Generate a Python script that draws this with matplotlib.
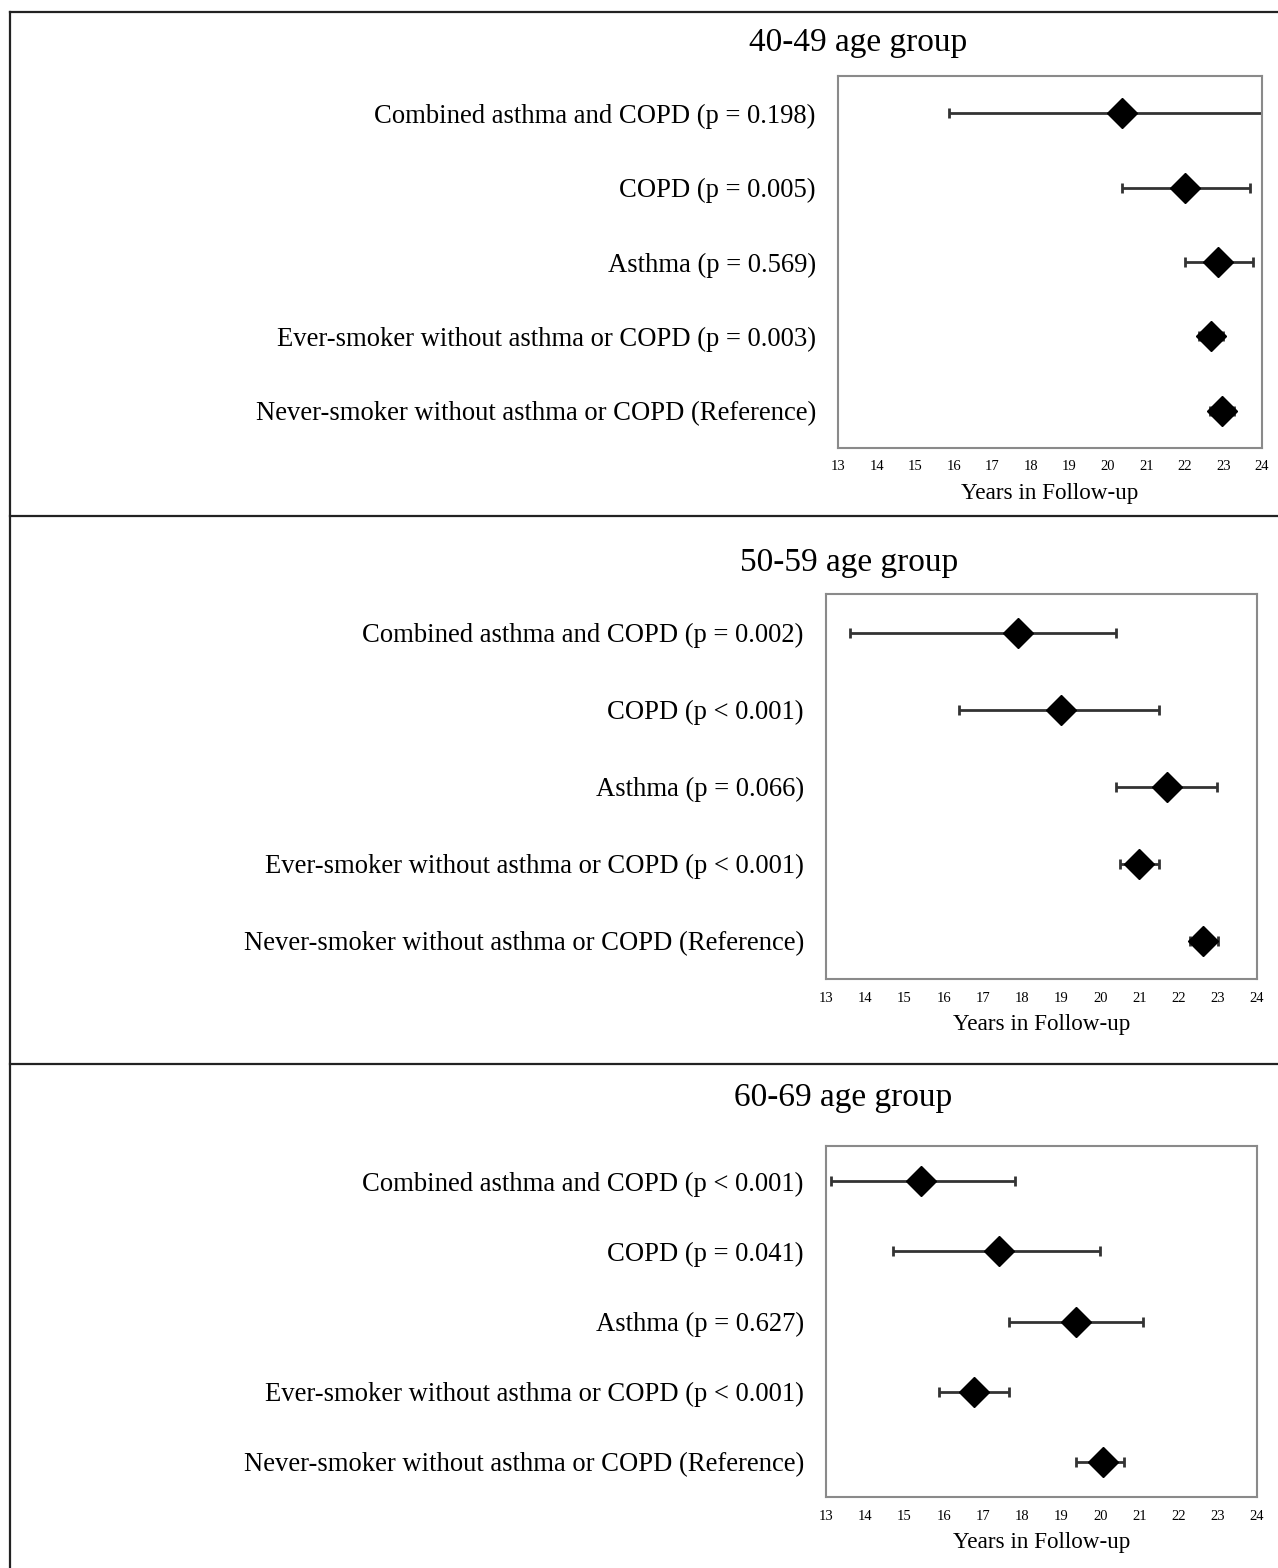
"""Forest-style plot of years in follow-up by age group (three stacked panels)."""
import matplotlib.pyplot as plt
from matplotlib.lines import Line2D

plt.rcParams["font.family"] = ["Liberation Serif", "DejaVu Serif"]

W, H, DPI = 1278, 1568, 100

groups = ["40-49", "50-59", "60-69"]

labels_4049 = ["Combined asthma and COPD (p = 0.198)",
               "COPD (p = 0.005)",
               "Asthma (p = 0.569)",
               "Ever-smoker without asthma or COPD (p = 0.003)",
               "Never-smoker without asthma or COPD (Reference)"]
labels_5059 = ["Combined asthma and COPD (p = 0.002)",
               "COPD (p < 0.001)",
               "Asthma (p = 0.066)",
               "Ever-smoker without asthma or COPD (p < 0.001)",
               "Never-smoker without asthma or COPD (Reference)"]
labels_6069 = ["Combined asthma and COPD (p < 0.001)",
               "COPD (p = 0.041)",
               "Asthma (p = 0.627)",
               "Ever-smoker without asthma or COPD (p < 0.001)",
               "Never-smoker without asthma or COPD (Reference)"]

mean_4049 = [20.37, 21.99, 22.85, 22.68, 22.97]
lo_4049 = [15.89, 20.37, 21.99, 22.37, 22.66]
hi_4049 = [24.90, 23.69, 23.77, 22.99, 23.28]

mean_5059 = [17.91, 19.00, 21.71, 21.00, 22.61]
lo_5059 = [13.60, 16.40, 20.39, 20.50, 22.28]
hi_5059 = [20.40, 21.49, 22.99, 21.49, 23.00]

mean_6069 = [15.43, 17.41, 19.37, 16.78, 20.07]
lo_6069 = [13.12, 14.71, 17.68, 15.89, 19.37]
hi_6069 = [17.82, 19.99, 21.10, 17.68, 20.61]

xticks = list(range(13, 25))

panels = [
    (labels_4049, mean_4049, lo_4049, hi_4049),
    (labels_5059, mean_5059, lo_5059, hi_5059),
    (labels_6069, mean_6069, lo_6069, hi_6069),
]

# axes boxes in pixels: left, right, top, bottom ; title centre (x, y)
boxes = [(838, 1262, 76, 448), (826, 1257, 594, 979), (826, 1257, 1146, 1497)]
titles_xy = [(858, 43), (849, 563), (843, 1098)]

fig = plt.figure(figsize=(W / DPI, H / DPI), dpi=DPI)

for (labels, mean, lo, hi), (l, r, t, b), (tx, ty), g in zip(panels, boxes, titles_xy, groups):
    ax = fig.add_axes([l / W, 1 - b / H, (r - l) / W, (b - t) / H])
    ypos = [4.5 - i for i in range(len(labels))]
    err = [[m - a for m, a in zip(mean, lo)], [c - m for m, c in zip(mean, hi)]]
    ax.errorbar(mean, ypos, xerr=err, fmt="none", ecolor="#333333",
                elinewidth=2.0, capsize=3.5, capthick=2.0, zorder=2)
    ax.plot(mean, ypos, linestyle="none", marker="D", markersize=15,
            color="black", zorder=3)
    ax.set_xlim(13, 24)
    ax.set_ylim(0, 5)
    ax.set_xticks(xticks)
    ax.set_xticklabels([str(v) for v in xticks], fontsize=10.5)
    ax.set_yticks(ypos)
    ax.set_yticklabels(labels, fontsize=19.2)
    ax.tick_params(axis="both", length=0, colors="black")
    ax.tick_params(axis="y", pad=16)
    ax.tick_params(axis="x", pad=9)
    ax.set_xlabel("Years in Follow-up", fontsize=16.7, labelpad=7)
    for s in ax.spines.values():
        s.set_color("#8a8a8a")
        s.set_linewidth(1.5)
    fig.text(tx / W, 1 - ty / H, f"{g} age group", fontsize=24,
             ha="center", va="center")

# outer frame and separators
frame_kw = dict(color="#222222", linewidth=1.6, transform=fig.transFigure)
fig.add_artist(Line2D([10 / W, 10 / W], [0, 1 - 12 / H], **frame_kw))
fig.add_artist(Line2D([10 / W, 1], [1 - 12 / H, 1 - 12 / H], **frame_kw))
for yy in (516, 1064):
    fig.add_artist(Line2D([10 / W, 1], [1 - yy / H, 1 - yy / H], **frame_kw))

fig.savefig("out.png", dpi=DPI)
